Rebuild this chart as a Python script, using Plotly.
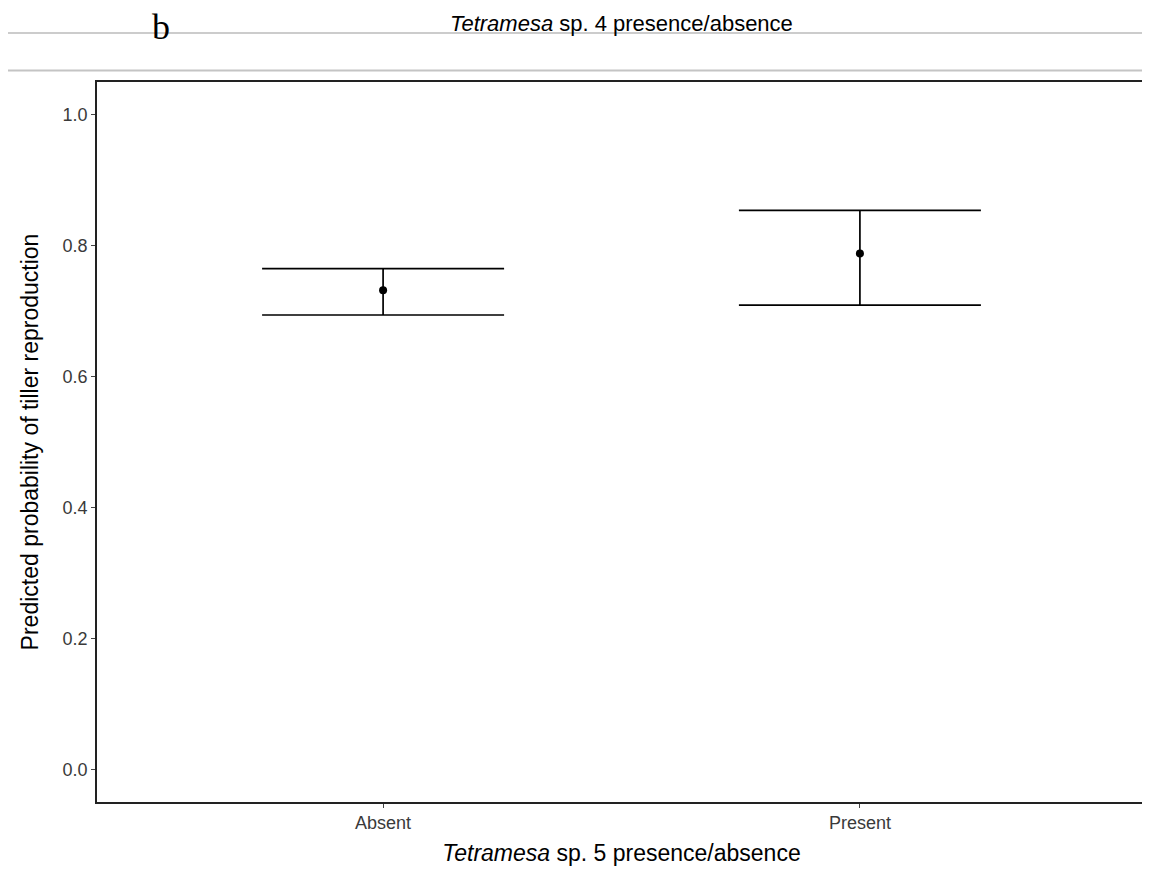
import plotly.graph_objects as go

categories = ["Absent", "Present"]
predicted = [0.732, 0.788]
lower = [0.694, 0.709]
upper = [0.765, 0.854]
y_ticks = [0.0, 0.2, 0.4, 0.6, 0.8, 1.0]
y_tick_labels = ["0.0", "0.2", "0.4", "0.6", "0.8", "1.0"]

err_plus = [u - p for u, p in zip(upper, predicted)]
err_minus = [p - l for p, l in zip(predicted, lower)]

fig = go.Figure()
fig.add_trace(go.Scatter(
    x=categories, y=predicted, mode="markers",
    marker=dict(color="black", size=8),
    error_y=dict(type="data", symmetric=False, array=err_plus, arrayminus=err_minus,
                 color="black", thickness=1.7, width=121),
    showlegend=False,
))

font_family = "Liberation Sans, Arial, sans-serif"

# page body margin is 8 px; figure is sized so the plot area lands at x 97..1148, y 82..802
fig.update_layout(
    width=1142, height=861,
    margin=dict(l=89, r=2, t=74, b=67),
    paper_bgcolor="white", plot_bgcolor="white",
    font=dict(family=font_family, color="black"),
    xaxis=dict(
        type="category", range=[-0.6, 1.6],
        showline=True, mirror=True, linecolor="#222", linewidth=1.6,
        showgrid=False, zeroline=False,
        ticks="outside", ticklen=4, tickcolor="#444", tickwidth=1,
        tickfont=dict(size=18, color="#3a3a3a"),
        title=dict(text="<i>Tetramesa</i> sp. 5 presence/absence", font=dict(size=23, color="black"), standoff=12),
    ),
    yaxis=dict(
        range=[-0.05, 1.05],
        tickvals=y_ticks, ticktext=y_tick_labels,
        showline=True, mirror=True, linecolor="#222", linewidth=1.6,
        showgrid=False, zeroline=False,
        ticks="outside", ticklen=4, tickcolor="#444", tickwidth=1,
        tickfont=dict(size=18, color="#3a3a3a"),
        title=dict(text="Predicted probability of tiller reproduction", font=dict(size=23, color="black"), standoff=18),
    ),
)

def py(y_screen):
    return (802 - y_screen) / 720

def px(x_screen):
    return (x_screen - 97) / 1051

# Fragment of the preceding panel / page above
fig.add_shape(type="line", xref="paper", yref="paper", x0=px(0), x1=px(1152),
              y0=py(33), y1=py(33), line=dict(color="#9a9a9a", width=1.2))
fig.add_shape(type="line", xref="paper", yref="paper", x0=px(0), x1=px(1152),
              y0=py(70.5), y1=py(70.5), line=dict(color="#c4c4c4", width=2.2))
fig.add_annotation(text="<i>Tetramesa</i> sp. 4 presence/absence", xref="paper", yref="paper",
                   x=px(623), y=py(9), xanchor="center", yanchor="top",
                   showarrow=False, font=dict(size=22, color="black", family=font_family))
fig.add_annotation(text="b", xref="paper", yref="paper",
                   x=px(161), y=py(27), xanchor="center", yanchor="middle",
                   showarrow=False, font=dict(size=36, color="black", family="Liberation Serif, Times New Roman, serif"))

fig.write_html("out.html")
